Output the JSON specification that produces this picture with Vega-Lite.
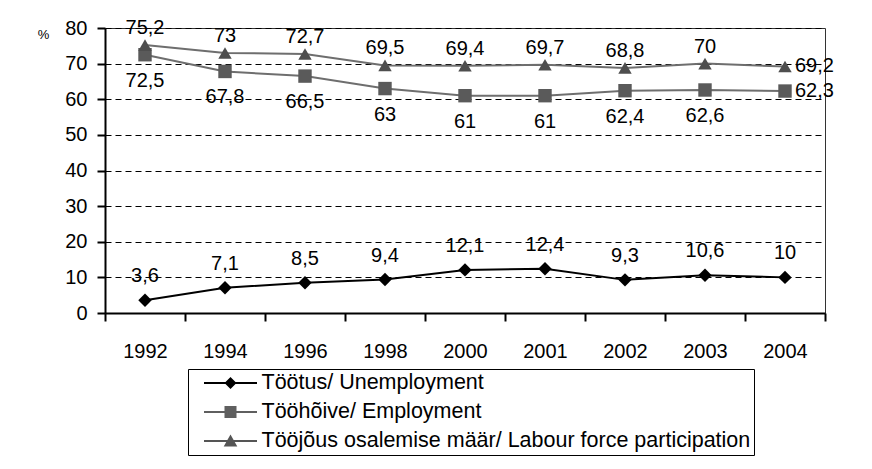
{
  "$schema": "https://vega.github.io/schema/vega-lite/v6.json",
  "width": 720,
  "height": 285,
  "autosize": {"type": "none"},
  "padding": {"left": 105, "top": 28, "right": 47, "bottom": 156},
  "background": "white",
  "config": {
    "font": "Liberation Sans",
    "locale": {"number": {"decimal": ",", "thousands": " ", "grouping": [3], "currency": ["", ""]}},
    "view": {"stroke": "#333333", "strokeWidth": 1}
  },
  "data": {
    "values": [
      {"year": "1992", "series": "Töötus/ Unemployment", "value": 3.6},
      {"year": "1994", "series": "Töötus/ Unemployment", "value": 7.1},
      {"year": "1996", "series": "Töötus/ Unemployment", "value": 8.5},
      {"year": "1998", "series": "Töötus/ Unemployment", "value": 9.4},
      {"year": "2000", "series": "Töötus/ Unemployment", "value": 12.1},
      {"year": "2001", "series": "Töötus/ Unemployment", "value": 12.4},
      {"year": "2002", "series": "Töötus/ Unemployment", "value": 9.3},
      {"year": "2003", "series": "Töötus/ Unemployment", "value": 10.6},
      {"year": "2004", "series": "Töötus/ Unemployment", "value": 10},
      {"year": "1992", "series": "Tööhõive/ Employment", "value": 72.5},
      {"year": "1994", "series": "Tööhõive/ Employment", "value": 67.8},
      {"year": "1996", "series": "Tööhõive/ Employment", "value": 66.5},
      {"year": "1998", "series": "Tööhõive/ Employment", "value": 63},
      {"year": "2000", "series": "Tööhõive/ Employment", "value": 61},
      {"year": "2001", "series": "Tööhõive/ Employment", "value": 61},
      {"year": "2002", "series": "Tööhõive/ Employment", "value": 62.4},
      {"year": "2003", "series": "Tööhõive/ Employment", "value": 62.6},
      {"year": "2004", "series": "Tööhõive/ Employment", "value": 62.3},
      {"year": "1992", "series": "Tööjõus osalemise määr/ Labour force participation", "value": 75.2},
      {"year": "1994", "series": "Tööjõus osalemise määr/ Labour force participation", "value": 73},
      {"year": "1996", "series": "Tööjõus osalemise määr/ Labour force participation", "value": 72.7},
      {"year": "1998", "series": "Tööjõus osalemise määr/ Labour force participation", "value": 69.5},
      {"year": "2000", "series": "Tööjõus osalemise määr/ Labour force participation", "value": 69.4},
      {"year": "2001", "series": "Tööjõus osalemise määr/ Labour force participation", "value": 69.7},
      {"year": "2002", "series": "Tööjõus osalemise määr/ Labour force participation", "value": 68.8},
      {"year": "2003", "series": "Tööjõus osalemise määr/ Labour force participation", "value": 70},
      {"year": "2004", "series": "Tööjõus osalemise määr/ Labour force participation", "value": 69.2}
    ]
  },
  "encoding": {
    "x": {
      "field": "year", "type": "ordinal", "bandPosition": 0.5,
      "scale": {"type": "band", "paddingInner": 0, "paddingOuter": 0},
      "axis": {"title": null, "labelAngle": 0, "labelFontSize": 20, "labelColor": "black",
        "domainColor": "black", "domainWidth": 2, "tickColor": "black", "tickWidth": 2,
        "tickSize": 8, "tickBand": "extent", "labelPadding": 20, "grid": false}
    },
    "y": {
      "field": "value", "type": "quantitative",
      "scale": {"domain": [0, 80], "nice": false},
      "axis": {"title": "%", "titleAngle": 0, "titleX": -62, "titleY": 6, "titleFontSize": 13,
        "titleFontWeight": "normal", "titleAlign": "center", "titleBaseline": "middle", "titleColor": "black",
        "values": [0, 10, 20, 30, 40, 50, 60, 70, 80], "labelFontSize": 20, "labelColor": "black",
        "labelPadding": 10, "tickSize": 8, "tickWidth": 2, "tickColor": "black",
        "domainColor": "black", "domainWidth": 2, "grid": true, "gridColor": "black",
        "gridDash": [6, 4], "gridWidth": 1}
    }
  },
  "layer": [
    {
      "mark": {"type": "line", "strokeWidth": 2},
      "encoding": {
        "stroke": {"field": "series", "type": "nominal",
          "scale": {"domain": ["Töötus/ Unemployment", "Tööhõive/ Employment", "Tööjõus osalemise määr/ Labour force participation"],
            "range": ["#000000", "#6e6e6e", "#6e6e6e"]},
          "legend": null}
      }
    },
    {
      "mark": {"type": "point", "filled": true, "opacity": 1, "size": 180},
      "encoding": {
        "fill": {"field": "series", "type": "nominal",
          "scale": {"domain": ["Töötus/ Unemployment", "Tööhõive/ Employment", "Tööjõus osalemise määr/ Labour force participation"],
            "range": ["#000000", "#5a5a5a", "#4e4e4e"]},
          "legend": null},
        "shape": {"field": "series", "type": "nominal",
          "scale": {"domain": ["Töötus/ Unemployment", "Tööhõive/ Employment", "Tööjõus osalemise määr/ Labour force participation"],
            "range": ["diamond", "square", "triangle-up"]},
          "legend": null}
      }
    },
    {
      "transform": [{"filter": "false"}],
      "mark": {"type": "point", "filled": true, "opacity": 1},
      "encoding": {
        "fill": {"field": "series", "type": "nominal",
          "scale": {"domain": ["Töötus/ Unemployment", "Tööhõive/ Employment", "Tööjõus osalemise määr/ Labour force participation"],
            "range": ["#000000", "#5f5f5f", "#555555"]},
          "legend": {"title": null, "orient": "none", "legendX": 83, "legendY": 341,
            "strokeColor": "black", "fillColor": "white", "padding": 3, "labelFontSize": 21.5,
            "labelColor": "black", "symbolSize": 400, "labelLimit": 1000, "rowPadding": 7,
            "symbolOffset": 28.5, "labelOffset": 20, "symbolOpacity": 1}},
        "shape": {"field": "series", "type": "nominal",
          "scale": {"domain": ["Töötus/ Unemployment", "Tööhõive/ Employment", "Tööjõus osalemise määr/ Labour force participation"],
            "range": ["M-2.65,-0.1H2.65V0.1H-2.65ZM0,-0.6L0.6,0L0,0.6L-0.6,0Z", "M-2.65,-0.1H2.65V0.1H-2.65ZM-0.6,-0.6H0.6V0.6H-0.6Z", "M-2.65,-0.1H2.65V0.1H-2.65ZM0,-0.65L0.68,0.55L-0.68,0.55Z"]},
          "legend": {"title": null, "orient": "none", "legendX": 83, "legendY": 341,
            "strokeColor": "black", "fillColor": "white", "padding": 3, "labelFontSize": 21.5,
            "labelColor": "black", "symbolSize": 400, "labelLimit": 1000, "rowPadding": 7,
            "symbolOffset": 28.5, "labelOffset": 20, "symbolOpacity": 1}}
      }
    },
    {
      "transform": [{"filter": "datum.series === 'Töötus/ Unemployment'"}],
      "mark": {"type": "text", "fontSize": 20, "fill": "black", "dy": -24},
      "encoding": {"text": {"field": "value", "type": "quantitative", "format": ".1~f"}}
    },
    {
      "transform": [{"filter": "datum.series === 'Tööhõive/ Employment' && datum.year !== '2004'"}],
      "mark": {"type": "text", "fontSize": 20, "fill": "black", "dy": 26},
      "encoding": {"text": {"field": "value", "type": "quantitative", "format": ".1~f"}}
    },
    {
      "transform": [{"filter": "datum.series === 'Tööjõus osalemise määr/ Labour force participation' && datum.year !== '2004'"}],
      "mark": {"type": "text", "fontSize": 20, "fill": "black", "dy": -17},
      "encoding": {"text": {"field": "value", "type": "quantitative", "format": ".1~f"}}
    },
    {
      "transform": [{"filter": "datum.series !== 'Töötus/ Unemployment' && datum.year === '2004'"}],
      "mark": {"type": "text", "fontSize": 20, "fill": "black", "align": "left", "dx": 10},
      "encoding": {"text": {"field": "value", "type": "quantitative", "format": ".1~f"}}
    }
  ],
  "resolve": {"scale": {"fill": "independent", "shape": "independent"}}
}
